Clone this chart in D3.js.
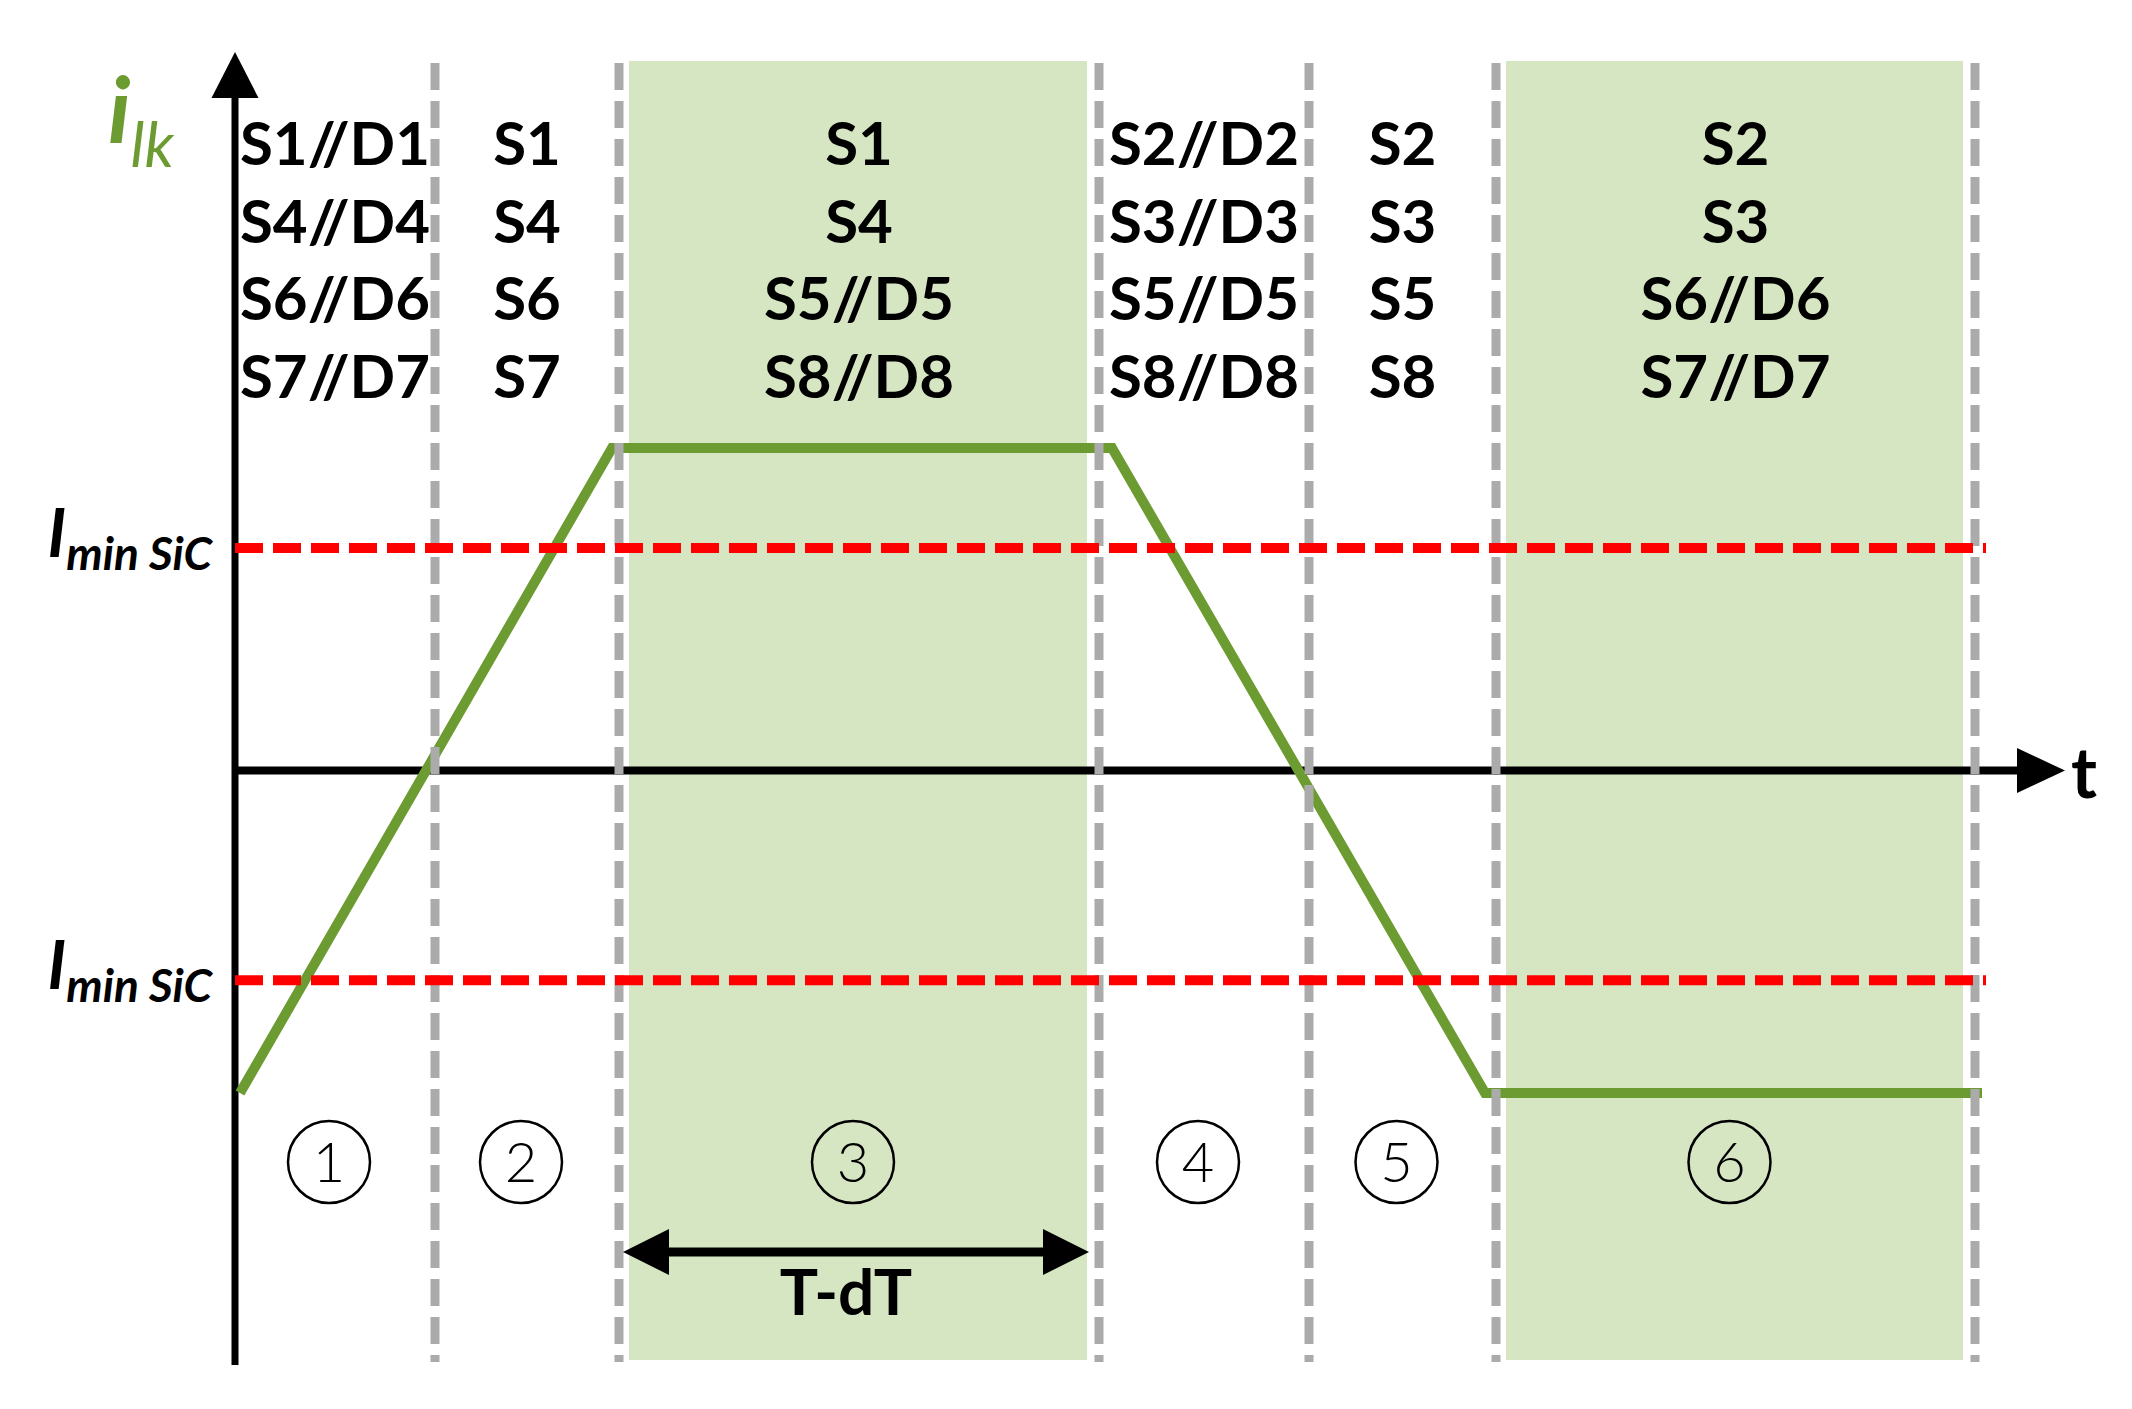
<!DOCTYPE html>
<html>
<head>
<meta charset="utf-8">
<script src="https://cdn.jsdelivr.net/npm/d3@7"></script>
<style>
  body { margin: 0; background: #fff; }
  text { font-family: Lato, "Open Sans", "DejaVu Sans", sans-serif; }
</style>
</head>
<body>
<svg id="chart"></svg>
<script>
// phase boundaries on the time axis (arbitrary time units)
var phaseBounds = [0, 1.0, 1.92, 4.32, 5.37, 6.305, 8.70];
var phaseLabels = ["1", "2", "3", "4", "5", "6"];
var shadedPhases = [2, 5];
var phaseSwitches = [
	["S1//D1", "S4//D4", "S6//D6", "S7//D7"],
	["S1", "S4", "S6", "S7"],
	["S1", "S4", "S5//D5", "S8//D8"],
	["S2//D2", "S3//D3", "S5//D5", "S8//D8"],
	["S2", "S3", "S5", "S8"],
	["S2", "S3", "S6//D6", "S7//D7"]
];

// leakage current waveform (normalised)
var waveT = [0.025, 1.885, 4.385, 6.25, 8.735];
var waveI = [-1, 1, 1, -1, -1];

// SiC minimum current thresholds
var thresholds = [0.69, -0.65];

var width = 2132,
	height = 1409;

var green = "#6c9c31",
	shade = "#d6e6c2",
	grey = "#ababab",
	red = "#ff0000";

var x = d3.scaleLinear().domain([0, 9.15]).range([235, 2065]),
	y = d3.scaleLinear().domain([-1, 1]).range([1093, 448]);

var svg = d3.select("#chart")
	.attr("width", width)
	.attr("height", height);

svg.append("rect")
	.attr("width", width)
	.attr("height", height)
	.style("fill", "#fff");

// shaded phases
svg.append("g")
	.selectAll("rect")
	.data(shadedPhases)
	.enter().append("rect")
	.attr("x", function (d) { return x(phaseBounds[d]) + 10; })
	.attr("y", 61)
	.attr("width", function (d) { return x(phaseBounds[d + 1]) - x(phaseBounds[d]) - 22; })
	.attr("height", 1299)
	.style("fill", shade);

// axes
var x0 = x(0), y0 = y(0);
svg.append("line")
	.attr("x1", x0).attr("x2", x0)
	.attr("y1", 1365).attr("y2", 96)
	.style("stroke", "#000").style("stroke-width", 7);
svg.append("path")
	.attr("d", "M" + x0 + ",52L" + (x0 - 23.5) + ",98L" + (x0 + 23.5) + ",98Z")
	.style("fill", "#000");

svg.append("line")
	.attr("x1", x0).attr("x2", x(9.15) - 46)
	.attr("y1", y0).attr("y2", y0)
	.style("stroke", "#000").style("stroke-width", 8);
svg.append("path")
	.attr("d", "M" + x(9.15) + "," + y0 + "L" + (x(9.15) - 48) + "," + (y0 - 22.5) + "L" + (x(9.15) - 48) + "," + (y0 + 22.5) + "Z")
	.style("fill", "#000");

svg.append("text")
	.attr("x", x(9.15) + 6)
	.attr("y", y0 + 27)
	.style("font-size", "70px")
	.style("font-weight", "bold")
	.text("t");

// leakage current
var line = d3.line()
	.x(function (d) { return x(d[0]); })
	.y(function (d) { return y(d[1]); });

svg.append("path")
	.datum(waveT.map(function (t, i) { return [t, waveI[i]]; }))
	.attr("d", line)
	.style("fill", "none")
	.style("stroke", green)
	.style("stroke-width", 10);

// phase boundaries
svg.append("g")
	.selectAll("line")
	.data(phaseBounds.slice(1))
	.enter().append("line")
	.attr("x1", function (d) { return x(d); })
	.attr("x2", function (d) { return x(d); })
	.attr("y1", 63)
	.attr("y2", 1362)
	.style("stroke", grey)
	.style("stroke-width", 9)
	.style("stroke-dasharray", "27,11");

// threshold lines
svg.append("g")
	.selectAll("line")
	.data(thresholds)
	.enter().append("line")
	.attr("x1", x0)
	.attr("x2", x(waveT[waveT.length - 1]) + 4)
	.attr("y1", function (d) { return y(d); })
	.attr("y2", function (d) { return y(d); })
	.style("stroke", red)
	.style("stroke-width", 10)
	.style("stroke-dasharray", "28,10");

var lbl = svg.append("g")
	.selectAll("text")
	.data(thresholds)
	.enter().append("text")
	.attr("x", 212)
	.attr("y", function (d) { return y(d) + 9; })
	.style("text-anchor", "end")
	.style("font-style", "italic")
	.style("font-weight", "bold");
lbl.append("tspan")
	.style("font-size", "66px")
	.text("I");
lbl.append("tspan")
	.attr("dy", 13)
	.style("font-size", "46px")
	.text("min SiC");

// i_lk label
var ilk = svg.append("text")
	.attr("x", 108)
	.attr("y", 143)
	.style("fill", green)
	.style("font-style", "italic")
	.style("font-weight", "bold");
ilk.append("tspan").style("font-size", "92px").text("i");
ilk.append("tspan").attr("dy", 24).style("font-size", "62px").style("font-weight", "normal").text("lk");

// switch states per phase
var cols = svg.append("g")
	.selectAll("g")
	.data(phaseSwitches)
	.enter().append("g")
	.attr("transform", function (d, i) {
		return "translate(" + (x(phaseBounds[i]) + x(phaseBounds[i + 1])) / 2 + ",0)";
	});

cols.selectAll("text")
	.data(function (d) { return d; })
	.enter().append("text")
	.attr("y", function (d, j) { return 165 + j * 77.5; })
	.style("text-anchor", "middle")
	.style("font-size", "60px")
	.style("font-weight", "bold")
	.text(function (d) { return d; });

// circled phase numbers
var num = svg.append("g")
	.selectAll("g")
	.data(phaseLabels)
	.enter().append("g")
	.attr("transform", function (d, i) {
		return "translate(" + ((x(phaseBounds[i]) + x(phaseBounds[i + 1])) / 2 - 6) + ",1162)";
	});
num.append("circle")
	.attr("r", 41)
	.style("fill", "none")
	.style("stroke", "#000")
	.style("stroke-width", 2.5);
num.append("text")
	.attr("y", 20)
	.style("text-anchor", "middle")
	.style("font-size", "56px")
	.style("font-weight", 300)
	.text(function (d) { return d; });

// T-dT span
var ax1 = x(phaseBounds[2]) + 4,
	ax2 = x(phaseBounds[3]) - 10,
	ay = 1252;
svg.append("line")
	.attr("x1", ax1 + 40).attr("x2", ax2 - 40)
	.attr("y1", ay).attr("y2", ay)
	.style("stroke", "#000").style("stroke-width", 9);
svg.append("path")
	.attr("d", "M" + ax1 + "," + ay + "L" + (ax1 + 46) + "," + (ay - 23) + "L" + (ax1 + 46) + "," + (ay + 23) + "Z" +
		"M" + ax2 + "," + ay + "L" + (ax2 - 46) + "," + (ay - 23) + "L" + (ax2 - 46) + "," + (ay + 23) + "Z")
	.style("fill", "#000");
svg.append("text")
	.attr("x", (ax1 + ax2) / 2 - 10)
	.attr("y", 1315)
	.style("text-anchor", "middle")
	.style("font-size", "64px")
	.style("font-weight", "bold")
	.text("T-dT");
</script>
</body>
</html>
